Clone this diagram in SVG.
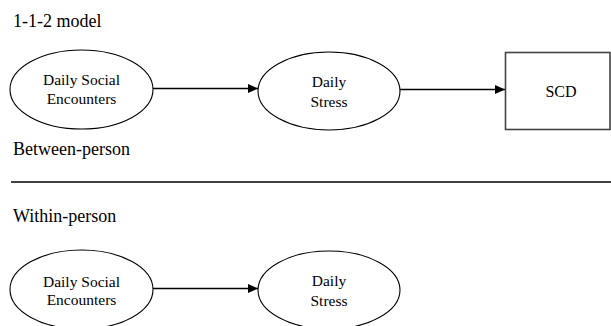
<svg xmlns="http://www.w3.org/2000/svg" width="611" height="326" viewBox="0 0 611 326">
<style>
  text { font-family: "Liberation Serif", "Times New Roman", Times, serif; fill: #000; }
  .lbl { font-size: 18px; }
  .nt { font-size: 15.5px; text-anchor: middle; }
  .el { fill: #fff; stroke: #000; stroke-width: 1.1; }
  .bx { fill: #fff; stroke: #444; stroke-width: 1.6; }
  .ar { stroke: #000; stroke-width: 1.6; fill: none; marker-end: url(#ah); }
</style>
<defs>
  <marker id="ah" viewBox="0 0 10 10" refX="10" refY="5" markerWidth="10" markerHeight="10" markerUnits="userSpaceOnUse" orient="auto">
    <path d="M0,0.5 L10,5 L0,9.5 Z" fill="#000"/>
  </marker>
</defs>
<rect width="611" height="326" fill="#fff"/>
<text class="lbl" x="13" y="27">1-1-2 model</text>
<text class="lbl" x="13" y="155">Between-person</text>
<line x1="11" y1="182" x2="611" y2="182" stroke="#000" stroke-width="1.4"/>
<text class="lbl" x="13" y="221.5">Within-person</text>
<g id="connectors">
  <line class="ar" x1="153" y1="88.5" x2="258" y2="88.5"/>
  <line class="ar" x1="400" y1="89.5" x2="505" y2="89.5"/>
  <line class="ar" x1="153" y1="288.5" x2="258" y2="288.5"/>
</g>
<g id="top-encounters">
  <ellipse class="el" cx="81.5" cy="89.5" rx="71.5" ry="39.5"/>
  <text class="nt" x="81.5" y="85" font-family="Liberation Serif, serif">Daily Social</text>
  <text class="nt" x="81.5" y="103.5" font-family="Liberation Serif, serif">Encounters</text>
</g>
<g id="top-stress">
  <ellipse class="el" cx="329" cy="91" rx="71" ry="39"/>
  <text class="nt" x="329" y="86.5">Daily</text>
  <text class="nt" x="329" y="106.5">Stress</text>
</g>
<g id="scd">
  <rect class="bx" x="505.5" y="52.5" width="104.5" height="77"/>
  <text class="nt" x="561" y="97" style="font-size:16px">SCD</text>
</g>
<g id="bottom-encounters">
  <ellipse class="el" cx="81.5" cy="289.5" rx="71.5" ry="39.5"/>
  <text class="nt" x="81.5" y="286.5">Daily Social</text>
  <text class="nt" x="81.5" y="305">Encounters</text>
</g>
<g id="bottom-stress">
  <ellipse class="el" cx="329" cy="290" rx="71" ry="39"/>
  <text class="nt" x="329" y="285.5">Daily</text>
  <text class="nt" x="329" y="305.5">Stress</text>
</g>
</svg>
